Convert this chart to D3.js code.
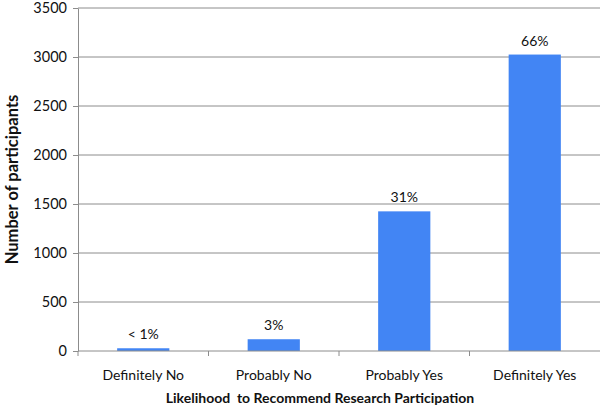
<!DOCTYPE html>
<html>
<head>
<meta charset="utf-8">
<script src="https://cdn.jsdelivr.net/npm/d3@7"></script>
<style>
  body { margin: 0; background: #fff; }
  text { font-family: Lato, "Open Sans", sans-serif; fill: #111; }
</style>
</head>
<body>
<div id="chart"></div>
<script>
const categories = ["Definitely No", "Probably No", "Probably Yes", "Definitely Yes"];
const counts = [28, 120, 1425, 3025];
const pctLabels = ["< 1%", "3%", "31%", "66%"];
const yTicks = [0, 500, 1000, 1500, 2000, 2500, 3000, 3500];

const WIDTH = 600,
    HEIGHT = 410;
const margin = { top: 8, right: 0, bottom: 59, left: 78 };

const svg = d3.select("#chart")
    .append("svg")
    .attr("width", WIDTH)
    .attr("height", HEIGHT);

const x = d3.scaleBand()
    .domain(categories)
    .range([margin.left, WIDTH - margin.right])
    .paddingInner(0.6)
    .paddingOuter(0.3);

const y = d3.scaleLinear()
    .domain([0, 3500])
    .range([HEIGHT - margin.bottom, margin.top]);

// gridlines
svg.append("g")
    .selectAll("line")
    .data(yTicks.slice(1))
    .join("line")
    .attr("x1", margin.left)
    .attr("x2", WIDTH - margin.right)
    .attr("y1", d => y(d))
    .attr("y2", d => y(d))
    .attr("stroke", "#8c8c8c")
    .attr("stroke-width", 1);

// bars
svg.append("g")
    .selectAll("rect")
    .data(counts)
    .join("rect")
    .attr("x", (d, i) => x(categories[i]))
    .attr("y", d => y(d))
    .attr("width", x.bandwidth())
    .attr("height", d => y(0) - y(d))
    .attr("fill", "#4285f4");

// bar labels
svg.append("g")
    .selectAll("text")
    .data(counts)
    .join("text")
    .attr("x", (d, i) => x(categories[i]) + x.bandwidth() / 2)
    .attr("y", d => y(d) - 9)
    .attr("text-anchor", "middle")
    .attr("font-size", "14px")
    .text((d, i) => pctLabels[i]);

// y axis
const yAxis = svg.append("g")
    .attr("transform", `translate(${margin.left},0)`)
    .call(d3.axisLeft(y).tickValues(yTicks).tickFormat(d3.format("d"))
        .tickSize(5).tickSizeOuter(0).tickPadding(6));
yAxis.selectAll("path, line").attr("stroke", "#8c8c8c");
yAxis.selectAll("text").attr("font-size", "14.5px").attr("font-family", "Lato, sans-serif").attr("fill", "#111");

// x axis with ticks at category boundaries
const base = y(0);
svg.append("line")
    .attr("x1", margin.left)
    .attr("x2", WIDTH - margin.right)
    .attr("y1", base)
    .attr("y2", base)
    .attr("stroke", "#8c8c8c");

const step = x.step();
svg.append("g")
    .selectAll("line")
    .data(categories)
    .join("line")
    .attr("x1", d => x(d) - step * 0.3)
    .attr("x2", d => x(d) - step * 0.3)
    .attr("y1", base)
    .attr("y2", base + 5)
    .attr("stroke", "#8c8c8c");

svg.append("g")
    .selectAll("text")
    .data(categories)
    .join("text")
    .attr("x", d => x(d) + x.bandwidth() / 2)
    .attr("y", base + 29)
    .attr("text-anchor", "middle")
    .attr("font-size", "14px")
    .text(d => d);

// axis titles
svg.append("text")
    .attr("x", 320)
    .attr("y", 403)
    .attr("text-anchor", "middle")
    .attr("font-size", "14px")
    .attr("font-weight", "bold")
    .style("white-space", "pre")
    .text("Likelihood  to Recommend Research Participation");

svg.append("text")
    .attr("transform", `translate(18,${(margin.top + base) / 2}) rotate(-90)`)
    .attr("text-anchor", "middle")
    .attr("font-size", "16.5px")
    .attr("font-weight", "bold")
    .text("Number of participants");
</script>
</body>
</html>
